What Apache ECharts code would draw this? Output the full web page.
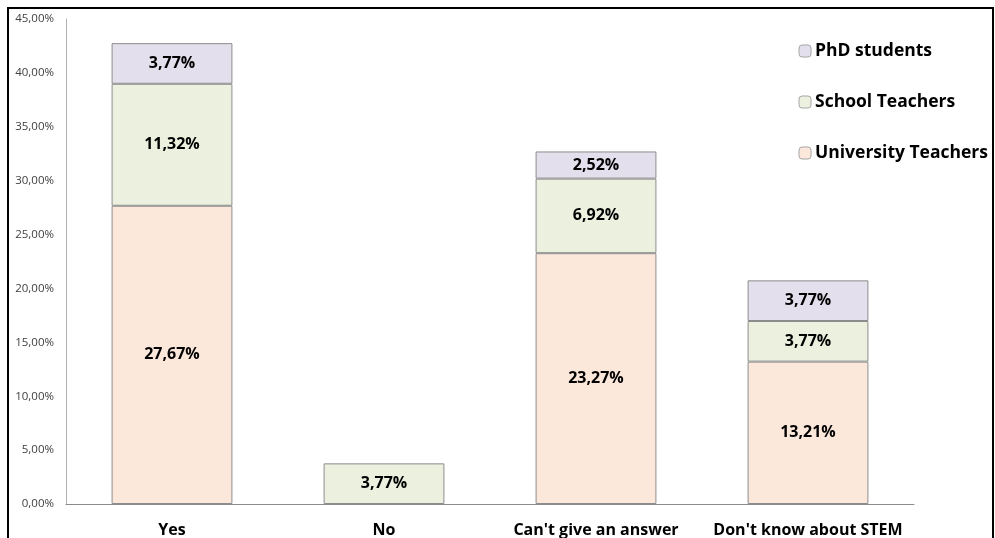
<!DOCTYPE html>
<html><head><meta charset="utf-8">
<script src="https://cdn.jsdelivr.net/npm/echarts@6/dist/echarts.min.js"></script>
<style>html,body{margin:0;padding:0;background:#fff}#c{width:995px;height:538px}</style>
</head><body><div id="c"></div>
<script>
const categories = ["Yes", "No", "Can't give an answer", "Don't know about STEM"];
const universityTeachers = [27.67, null, 23.27, 13.21];
const schoolTeachers = [11.32, 3.77, 6.92, 3.77];
const phdStudents = [3.77, null, 2.52, 3.77];
const yTicks = [0, 5, 10, 15, 20, 25, 30, 35, 40, 45];

const FONT = '"Open Sans", sans-serif';
const fmt = v => v.toFixed(2).replace('.', ',') + '%';
const chart = echarts.init(document.getElementById('c'), null, {renderer: 'canvas'});
const label = {
  show: true, position: 'inside', color: '#000', fontWeight: 'bold', fontSize: 16, fontFamily: FONT,
  formatter: p => p.value == null ? '' : fmt(p.value)
};
const mk = (name, data, color) => ({
  name, type: 'bar', stack: 'total', data, barWidth: '57%',
  itemStyle: {color, borderColor: '#8c8c8c', borderWidth: 1},
  label, emphasis: {disabled: true}
});
chart.setOption({
  animation: false,
  graphic: [{type: 'rect', shape: {x: 8, y: 8, width: 985, height: 540}, style: {fill: 'none', stroke: '#000', lineWidth: 2}, silent: true}],
  grid: {left: 66, right: 81, top: 19, bottom: 34},
  legend: {
    orient: 'vertical', right: 2, top: 35, itemGap: 29, itemWidth: 12, itemHeight: 12,
    data: ['PhD students', 'School Teachers', 'University Teachers'],
    textStyle: {fontWeight: 'bold', fontSize: 17.5, lineHeight: 22, fontFamily: FONT, color: '#000', padding: [0, 0, 0, -1]},
    itemStyle: {borderColor: '#a6a6a6', borderWidth: 1}
  },
  xAxis: {
    type: 'category', data: categories,
    axisLine: {lineStyle: {color: '#8c8c8c', width: 1}},
    axisTick: {show: false},
    axisLabel: {interval: 0, color: '#000', fontWeight: 'bold', fontSize: 16, fontFamily: FONT, margin: 18}
  },
  yAxis: {
    type: 'value', min: 0, max: 45, interval: 5,
    axisLine: {show: true, lineStyle: {color: '#b0b0b0', width: 1}},
    axisTick: {show: false},
    splitLine: {show: false},
    axisLabel: {color: '#404040', fontSize: 11.5, fontFamily: FONT, margin: 12,
      formatter: v => yTicks.includes(v) ? fmt(v) : ''}
  },
  series: [
    mk('University Teachers', universityTeachers, '#fce8da'),
    mk('School Teachers', schoolTeachers, '#ebf1de'),
    mk('PhD students', phdStudents, '#e4dfec')
  ]
});
</script></body></html>
